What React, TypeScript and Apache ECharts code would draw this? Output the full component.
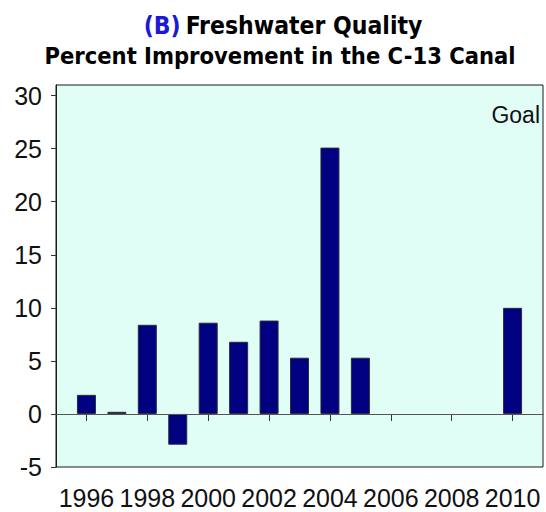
import React, { useEffect, useRef } from "react";
import * as echarts from "echarts";

const years = [1996, 1997, 1998, 1999, 2000, 2001, 2002, 2003, 2004, 2005, 2010];
const values = [1.8, 0.2, 8.4, -2.9, 8.6, 6.8, 8.8, 5.3, 25.1, 5.3, 10.0];
const xTicks = [1996, 1998, 2000, 2002, 2004, 2006, 2008, 2010];
const yTicks = [-5, 0, 5, 10, 15, 20, 25, 30];
const titleTag = "(B)";
const titleMain = "Freshwater Quality";
const subtitle = "Percent Improvement in the C-13 Canal";
const goalLabel = "Goal";

const sans = '"Liberation Sans", Arial, sans-serif';
const titleFont = '"DejaVu Sans Condensed", "DejaVu Sans", sans-serif';

export default function App() {
  const ref = useRef<HTMLDivElement>(null);
  useEffect(() => {
    if (!ref.current) return;
    const chart = echarts.init(ref.current, undefined, { renderer: "svg" });
    chart.setOption({
      animation: false,
      backgroundColor: "#ffffff",
      title: [
        {
          text: `{b|${titleTag}} {m|${titleMain}}`,
          left: 278,
          textAlign: "center",
          top: 8,
          textStyle: {
            rich: {
              b: { color: "#1a1ad6", fontFamily: titleFont, fontWeight: "bold", fontSize: 24.5 },
              m: { color: "#000", fontFamily: titleFont, fontWeight: "bold", fontSize: 24.5 },
            },
          },
        },
        {
          text: subtitle,
          left: 275,
          textAlign: "center",
          top: 39,
          textStyle: { color: "#000", fontFamily: titleFont, fontWeight: "bold", fontSize: 23.5 },
        },
      ],
      grid: {
        left: 56,
        right: 3,
        top: 85,
        bottom: 45,
        show: true,
        backgroundColor: "#e0fdf6",
        borderColor: "#1a1a1a",
        borderWidth: 1,
      },
      xAxis: {
        type: "value",
        min: 1995,
        max: 2011,
        splitLine: { show: false },
        axisLine: { show: true, lineStyle: { color: "#1a1a1a" } },
        axisTick: { show: true, length: 7, customValues: xTicks, lineStyle: { color: "#333" } },
        axisLabel: {
          customValues: xTicks,
          hideOverlap: false,
          showMinLabel: true,
          showMaxLabel: true,
          color: "#111",
          fontFamily: sans,
          fontSize: 25,
          margin: 18,
          formatter: (v: number) => String(v),
        },
      },
      yAxis: {
        type: "value",
        min: -5,
        max: 31,
        splitLine: { show: false },
        axisLine: { show: true, lineStyle: { color: "#1a1a1a" } },
        axisTick: { show: true, length: 5, customValues: yTicks, lineStyle: { color: "#333" } },
        axisLabel: {
          customValues: yTicks,
          color: "#111",
          fontFamily: sans,
          fontSize: 25,
          margin: 14,
        },
      },
      series: [
        {
          type: "bar",
          data: years.map((y, i) => [y, values[i]]),
          barWidth: 19,
          itemStyle: { color: "#000080", borderColor: "#2b2b3a", borderWidth: 1 },
          markLine: {
            silent: true,
            symbol: "none",
            label: { show: false },
            lineStyle: { color: "#555", type: "solid", width: 1 },
            data: [{ yAxis: 0 }],
          },
        },
      ],
      graphic: [
        {
          type: "text",
          right: 6,
          top: 103,
          style: { text: goalLabel, fill: "#111", font: `23px ${sans}` },
        },
      ],
    });
    return () => chart.dispose();
  }, []);
  return (
    <div
      ref={ref}
      style={{ position: "fixed", left: 0, top: 0, width: 546, height: 512 }}
    />
  );
}
